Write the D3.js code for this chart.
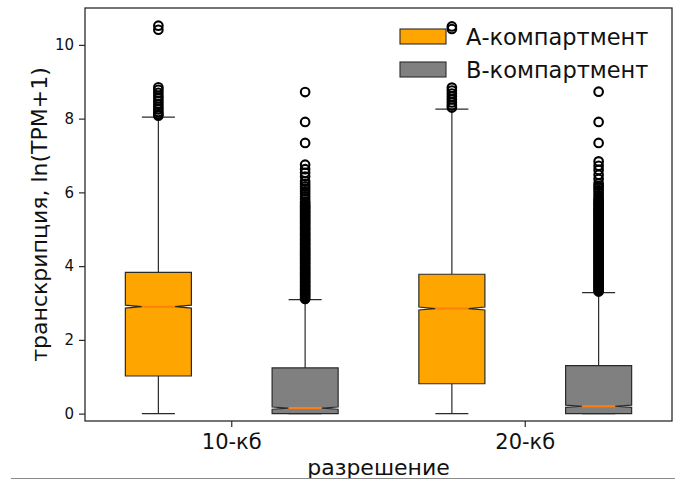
<!DOCTYPE html>
<html lang="ru">
<head>
  <meta charset="UTF-8">
  <title>Boxplot</title>
  <style>
    body { margin: 0; background: #fff; }
    text { font-family: "DejaVu Sans", sans-serif; fill: #111; }
  </style>
</head>
<body>
  <div class="canvas"></div>
  <script src="https://d3js.org/d3.v7.min.js"></script>
  <script>
    // data, indexed [category][series]
    const categories = ['10-кб', '20-кб'];
    const seriesNames = ['А-компартмент', 'В-компартмент'];
    const seriesColors = ['#ffa500', '#808080'];
    const yTicks = [0, 2, 4, 6, 8, 10];

    const whiskerLo = [[0, 0], [0, 0]];
    const q1 = [[1.02, 0.00], [0.81, 0.00]];
    const median = [[2.90, 0.15], [2.85, 0.20]];
    const q3 = [[3.83, 1.24], [3.78, 1.30]];
    const whiskerHi = [[8.04, 3.09], [8.26, 3.28]];
    const notchHalf = [[0.04, 0.03], [0.04, 0.03]];

    const fliersA10 = [8.08, 8.12, 8.18, 8.25, 8.32, 8.40, 8.48, 8.55, 8.62, 8.70, 8.78, 8.85, 10.41, 10.52];
    const fliersB10 = [3.11, 3.14, 3.18, 3.22, 3.25, 3.29, 3.33, 3.36, 3.40, 3.44, 3.47, 3.51, 3.55, 3.58,
      3.62, 3.66, 3.70, 3.73, 3.77, 3.81, 3.84, 3.88, 3.92, 3.95, 3.99, 4.03, 4.07, 4.10, 4.14, 4.18,
      4.21, 4.25, 4.29, 4.33, 4.36, 4.40, 4.44, 4.47, 4.51, 4.55, 4.59, 4.62, 4.66, 4.70, 4.73, 4.77,
      4.81, 4.85, 4.88, 4.92, 4.96, 5.00, 5.03, 5.07, 5.11, 5.15, 5.18, 5.22, 5.26, 5.30, 5.33, 5.37,
      5.41, 5.45, 5.48, 5.52, 5.56, 5.60, 5.63, 5.67, 5.71, 5.75,
      5.82, 5.89, 5.96, 6.03, 6.10, 6.16, 6.23, 6.30, 6.43, 6.53, 6.63, 6.75, 7.34, 7.91, 8.72];
    const fliersA20 = [8.30, 8.36, 8.44, 8.52, 8.60, 8.68, 8.76, 8.84, 10.43, 10.50];
    const fliersB20 = [3.31, 3.35, 3.38, 3.42, 3.46, 3.49, 3.53, 3.57, 3.60, 3.64, 3.68, 3.72, 3.75, 3.79,
      3.83, 3.86, 3.90, 3.94, 3.97, 4.01, 4.05, 4.09, 4.12, 4.16, 4.20, 4.23, 4.27, 4.31, 4.35, 4.38,
      4.42, 4.46, 4.49, 4.53, 4.57, 4.61, 4.64, 4.68, 4.72, 4.75, 4.79, 4.83, 4.87, 4.90, 4.94, 4.98,
      5.01, 5.05, 5.09, 5.13, 5.16, 5.20, 5.24, 5.27, 5.31, 5.35, 5.39, 5.42, 5.46, 5.50, 5.53, 5.57,
      5.61, 5.65, 5.68, 5.72, 5.76, 5.80, 5.85,
      5.92, 5.99, 6.06, 6.12, 6.18, 6.24, 6.36, 6.48, 6.61, 6.72, 6.84, 7.34, 7.91, 8.73];
    const fliers = [[fliersA10, fliersB10], [fliersA20, fliersB20]];

    const width = 675;
    const height = 482;
    const margin = {top: 8, right: 3, bottom: 61, left: 85};
    const graphWidth = width - margin.left - margin.right;
    const graphHeight = height - margin.top - margin.bottom;

    const svg = d3.select('.canvas')
      .append('svg')
      .attr('width', width)
      .attr('height', height);

    const graph = svg.append('g')
      .attr('transform', `translate(${margin.left}, ${margin.top})`);

    const x = d3.scaleBand()
      .domain(categories)
      .range([0, graphWidth])
      .padding(0);

    const xInner = d3.scaleBand()
      .domain(seriesNames)
      .range([0, x.bandwidth()])
      .padding(0);

    const y = d3.scaleLinear()
      .domain([-0.2, 11.0])
      .range([graphHeight, 0]);

    const boxWidth = xInner.bandwidth() * 0.45;

    const boxes = [];
    categories.forEach((c, i) => {
      seriesNames.forEach((s, j) => {
        boxes.push({
          cat: c, series: s, color: seriesColors[j],
          cx: x(c) + xInner(s) + xInner.bandwidth() / 2,
          lo: whiskerLo[i][j], q1: q1[i][j], med: median[i][j], q3: q3[i][j],
          hi: whiskerHi[i][j], notch: notchHalf[i][j], fliers: fliers[i][j]
        });
      });
    });

    const lineColor = '#2a2a2a';

    // whiskers
    graph.selectAll('line.whisker-lo')
      .data(boxes).enter().append('line')
      .attr('x1', d => d.cx).attr('x2', d => d.cx)
      .attr('y1', d => y(d.lo)).attr('y2', d => y(d.q1))
      .attr('stroke', lineColor).attr('stroke-width', 1.2);

    graph.selectAll('line.whisker-hi')
      .data(boxes).enter().append('line')
      .attr('x1', d => d.cx).attr('x2', d => d.cx)
      .attr('y1', d => y(d.q3)).attr('y2', d => y(d.hi))
      .attr('stroke', lineColor).attr('stroke-width', 1.2);

    // caps
    ['lo', 'hi'].forEach(k => {
      graph.selectAll('line.cap-' + k)
        .data(boxes).enter().append('line')
        .attr('x1', d => d.cx - boxWidth / 4).attr('x2', d => d.cx + boxWidth / 4)
        .attr('y1', d => y(d[k])).attr('y2', d => y(d[k]))
        .attr('stroke', lineColor).attr('stroke-width', 1.2);
    });

    // notched boxes
    const notchPath = d => {
      const l = d.cx - boxWidth / 2, r = d.cx + boxWidth / 2;
      const cl = d.cx - boxWidth / 4, cr = d.cx + boxWidth / 4;
      const pts = [
        [l, y(d.q1)], [r, y(d.q1)], [r, y(d.med - d.notch)], [cr, y(d.med)],
        [r, y(d.med + d.notch)], [r, y(d.q3)], [l, y(d.q3)], [l, y(d.med + d.notch)],
        [cl, y(d.med)], [l, y(d.med - d.notch)]
      ];
      return d3.line()(pts) + 'Z';
    };

    graph.selectAll('path.box')
      .data(boxes).enter().append('path')
      .attr('class', 'box')
      .attr('d', notchPath)
      .attr('fill', d => d.color)
      .attr('stroke', lineColor)
      .attr('stroke-width', 1.2);

    // medians
    graph.selectAll('line.median')
      .data(boxes).enter().append('line')
      .attr('x1', d => d.cx - boxWidth / 4).attr('x2', d => d.cx + boxWidth / 4)
      .attr('y1', d => y(d.med)).attr('y2', d => y(d.med))
      .attr('stroke', '#ff7f0e').attr('stroke-width', 2);

    // fliers
    const flierData = boxes.flatMap(b => b.fliers.map(v => ({cx: b.cx, v})));
    graph.selectAll('circle.flier')
      .data(flierData).enter().append('circle')
      .attr('cx', d => d.cx)
      .attr('cy', d => y(d.v))
      .attr('r', 4.3)
      .attr('fill', 'none')
      .attr('stroke', '#000')
      .attr('stroke-width', 2.1);

    // axes
    const gXAxis = graph.append('g')
      .attr('transform', `translate(0, ${graphHeight})`)
      .call(d3.axisBottom(x).tickSize(6).tickPadding(7));
    const gYAxis = graph.append('g')
      .call(d3.axisLeft(y).tickValues(yTicks).tickSize(6).tickPadding(5));

    gXAxis.select('.domain').remove();
    gYAxis.select('.domain').remove();
    gXAxis.selectAll('line').attr('stroke', lineColor).attr('stroke-width', 1.2);
    gYAxis.selectAll('line').attr('stroke', lineColor).attr('stroke-width', 1.2);
    gXAxis.selectAll('text')
      .style('font-size', '21px').style('font-family', 'DejaVu Sans').attr('fill', '#111');
    gYAxis.selectAll('text')
      .style('font-size', '15px').style('font-family', 'DejaVu Sans').attr('fill', '#111');

    // frame
    graph.append('rect')
      .attr('x', 0).attr('y', 0)
      .attr('width', graphWidth).attr('height', graphHeight)
      .attr('fill', 'none')
      .attr('stroke', lineColor)
      .attr('stroke-width', 1.3);

    // legend
    const legend = svg.append('g').attr('transform', 'translate(400, 29)');
    const items = legend.selectAll('g')
      .data(seriesNames).enter().append('g')
      .attr('transform', (d, i) => `translate(0, ${i * 33})`);
    items.append('rect')
      .attr('width', 46).attr('height', 15)
      .attr('fill', (d, i) => seriesColors[i])
      .attr('stroke', lineColor).attr('stroke-width', 1.1);
    items.append('text')
      .attr('x', 66).attr('y', 7.5)
      .attr('dy', '0.36em')
      .style('font-size', '22.5px')
      .text(d => d);

    // axis labels
    svg.append('text')
      .attr('x', margin.left + graphWidth / 2)
      .attr('y', 475)
      .attr('text-anchor', 'middle')
      .style('font-size', '22px')
      .text('разрешение');

    svg.append('text')
      .attr('transform', `translate(47, ${margin.top + graphHeight / 2}) rotate(-90)`)
      .attr('text-anchor', 'middle')
      .style('font-size', '22px')
      .text('транскрипция, ln(TPM+1)');

    // page rule under the figure
    svg.append('line')
      .attr('x1', 11).attr('x2', width)
      .attr('y1', 478.5).attr('y2', 478.5)
      .attr('stroke', '#8a8a8a').attr('stroke-width', 1);
  </script>
</body>
</html>
